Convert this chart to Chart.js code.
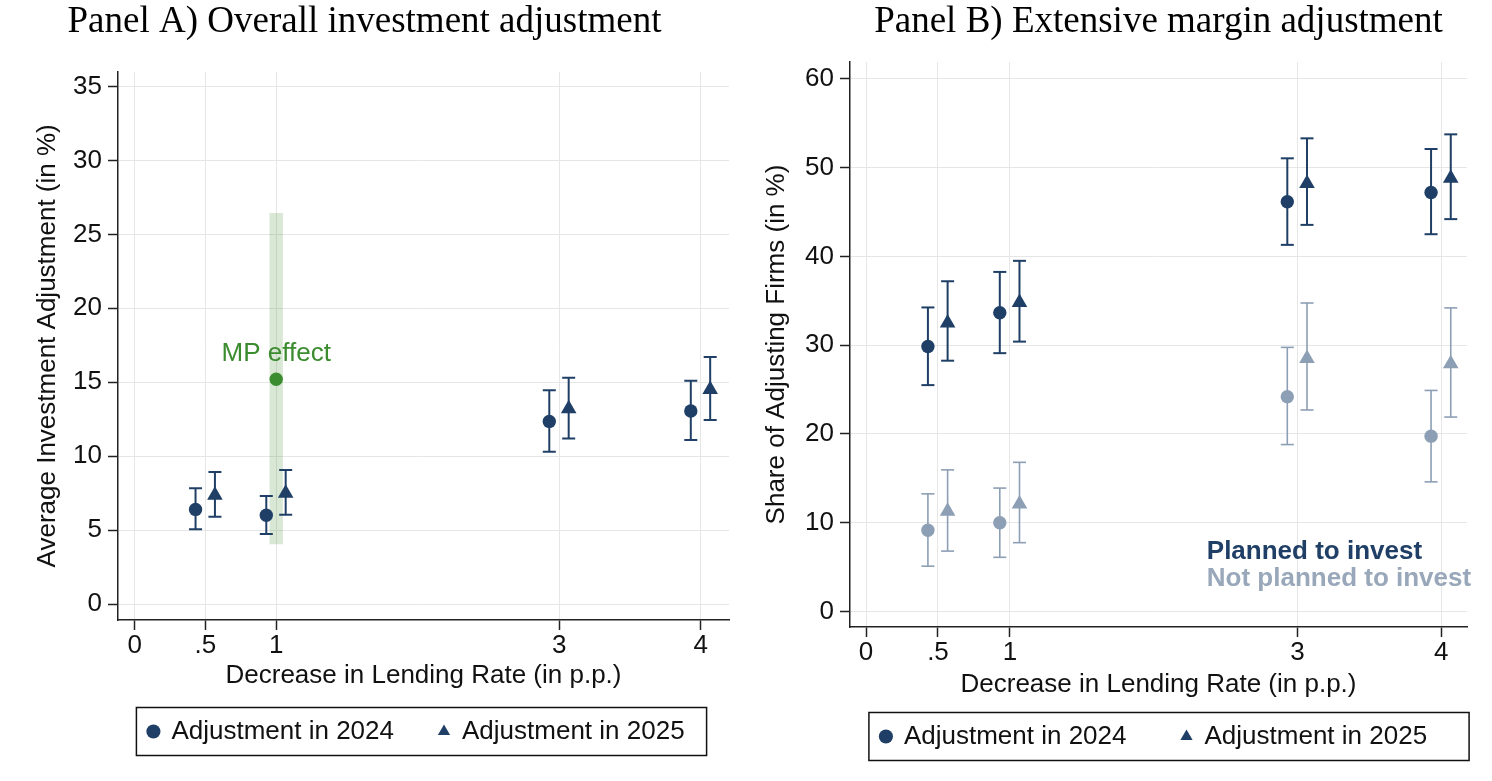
<!DOCTYPE html>
<html>
<head>
<meta charset="utf-8">
<script src="https://cdn.jsdelivr.net/npm/chart.js@4.4.1/dist/chart.umd.min.js"></script>
<style>
  body { margin: 0; background: #fff; width: 1492px; height: 781px; overflow: hidden; position: relative; }
  canvas { position: absolute; top: 0; }
  #chartA { left: 0; }
  #chartB { left: 745px; }
</style>
</head>
<body>
<canvas id="chartA" width="738" height="781"></canvas>
<canvas id="chartB" width="747" height="791"></canvas>
<script>
// shared x axis
const X_TICKS = [0, 0.5, 1, 3, 4];
const X_TICK_LABELS = ['0', '.5', '1', '3', '4'];
const RATE_CUTS = [0.5, 1, 3, 4];
const JITTER_2024 = -0.07, JITTER_2025 = 0.067;

// Panel A - overall investment adjustment
const A_Y_TICKS = [0, 5, 10, 15, 20, 25, 30, 35];
const adj2024 = [6.4, 6.0, 12.35, 13.05];
const adj2024Lo = [5.05, 4.73, 10.3, 11.1];
const adj2024Hi = [7.83, 7.31, 14.45, 15.1];
const adj2025 = [7.35, 7.5, 13.2, 14.5];
const adj2025Lo = [5.9, 6.03, 11.2, 12.45];
const adj2025Hi = [8.93, 9.07, 15.3, 16.7];
const mpRate = [1];
const mpEffect = [15.2];
const mpLo = [4.05], mpHi = [26.45];

// Panel B - extensive margin
const B_Y_TICKS = [0, 10, 20, 30, 40, 50, 60];
const plan2024 = [29.85, 33.65, 46.15, 47.2];
const plan2024Lo = [25.5, 29.1, 41.3, 42.5];
const plan2024Hi = [34.25, 38.25, 51.05, 52.1];
const plan2025 = [32.5, 34.8, 48.2, 48.8];
const plan2025Lo = [28.25, 30.4, 43.55, 44.2];
const plan2025Hi = [37.2, 39.5, 53.3, 53.75];
const notPlan2024 = [9.15, 10.0, 24.2, 19.75];
const notPlan2024Lo = [5.1, 6.1, 18.8, 14.6];
const notPlan2024Hi = [13.25, 13.9, 29.75, 24.9];
const notPlan2025 = [11.3, 12.1, 28.5, 27.9];
const notPlan2025Lo = [6.8, 7.75, 22.7, 21.9];
const notPlan2025Hi = [15.95, 16.8, 34.75, 34.2];

const NAVY = '#1f3f66';
const LIGHT = '#8d9fb5';
const GREEN = '#3b8b2f';
const SANS = 'Liberation Sans';
const FS = 26;

function shifted(xs, d) { return xs.map(x => x + d); }

function markerSet(label, xs, ys, style, color, radius, inLegend) {
    return {
        type: 'scatter', label: label, showInLegend: inLegend,
        data: xs.map((x, i) => ({x: x, y: ys[i]})),
        pointStyle: style, pointRadius: radius, pointHoverRadius: radius,
        backgroundColor: color, borderColor: color, pointBorderWidth: 0, borderWidth: 0
    };
}

function whiskerSet(xs, lo, hi, color, width, cap) {
    let pts = [];
    xs.forEach((x, i) => { pts.push({x: x, y: lo[i]}, {x: x, y: hi[i]}, {x: x, y: null}); });
    return {
        type: 'scatter', label: '', showInLegend: false, data: pts,
        showLine: true, spanGaps: false,
        borderColor: color, borderWidth: width, backgroundColor: color,
        pointStyle: 'line', pointRadius: cap, pointHoverRadius: cap,
        pointBorderColor: color, pointBorderWidth: width
    };
}

// moves the legend a little and draws the stata-like frame round it
const legendFrame = {
    id: 'legendFrame',
    afterLayout(chart, args, opts) {
        const lg = chart.legend;
        lg.left += opts.dx; lg.right += opts.dx;
        lg.top += opts.dy; lg.bottom += opts.dy;
    },
    afterDraw(chart, args, opts) {
        const boxes = chart.legend.legendHitBoxes;
        if (!boxes || !boxes.length) return;
        const left = Math.min(...boxes.map(b => b.left)) - opts.padLeft;
        const right = Math.max(...boxes.map(b => b.left + b.width)) + opts.padRight;
        const top = Math.min(...boxes.map(b => b.top)) - opts.padY;
        const bottom = Math.max(...boxes.map(b => b.top + b.height)) + opts.padY;
        const ctx = chart.ctx;
        ctx.save();
        ctx.strokeStyle = '#111';
        ctx.lineWidth = 1.5;
        ctx.strokeRect(left, top, right - left, bottom - top);
        ctx.restore();
    }
};

// text notes placed in data coordinates
const noteText = {
    id: 'noteText',
    afterDatasetsDraw(chart, args, opts) {
        const {ctx, scales: {x, y}} = chart;
        (opts.items || []).forEach(t => {
            ctx.save();
            ctx.font = t.font;
            ctx.fillStyle = t.color;
            ctx.textAlign = t.align;
            ctx.textBaseline = 'alphabetic';
            ctx.fillText(t.text, x.getPixelForValue(t.x), y.getPixelForValue(t.y));
            ctx.restore();
        });
    }
};

function panelOptions(cfg) {
    return {
        responsive: false, animation: false, devicePixelRatio: 1,
        layout: { padding: cfg.padding },
        scales: {
            x: {
                type: 'linear', min: cfg.xMin, max: cfg.xMax,
                afterBuildTicks: (s) => { s.ticks = X_TICKS.map(v => ({value: v})); },
                afterFit: (s) => { s.height = cfg.xHeight; },
                ticks: {
                    autoSkip: false, maxRotation: 0, padding: 0, color: '#111',
                    font: {family: SANS, size: FS},
                    callback: (v, i) => X_TICK_LABELS[i]
                },
                grid: { color: '#e6e6e6', lineWidth: 1, tickColor: '#222', tickLength: 10, tickWidth: 1.5 },
                border: { display: true, color: '#222', width: 1.5 },
                title: {
                    display: true, text: 'Decrease in Lending Rate (in p.p.)', color: '#111',
                    font: {family: SANS, size: FS}, padding: {top: 0, bottom: cfg.xTitlePad}
                }
            },
            y: {
                type: 'linear', min: cfg.yMin, max: cfg.yMax,
                afterBuildTicks: (s) => { s.ticks = cfg.yTicks.map(v => ({value: v})); },
                afterFit: (s) => { s.width = cfg.yWidth; },
                ticks: { padding: 6, color: '#111', font: {family: SANS, size: FS, lineHeight: 1} },
                grid: { color: '#e6e6e6', lineWidth: 1, tickColor: '#222', tickLength: 10, tickWidth: 1.5 },
                border: { display: true, color: '#222', width: 1.5 },
                title: {
                    display: true, text: cfg.yTitle, color: '#111',
                    font: {family: SANS, size: FS}, padding: {top: cfg.yTitlePad, bottom: 0}
                }
            }
        },
        plugins: {
            tooltip: { enabled: false },
            title: {
                display: true, text: cfg.title, fullSize: cfg.titleFull, color: '#000',
                font: {family: 'Liberation Serif', size: 37, weight: 'normal', lineHeight: 1.2},
                padding: {top: 0, bottom: cfg.titlePad}
            },
            legend: {
                display: true, position: 'bottom', fullSize: true,
                labels: {
                    usePointStyle: true, boxHeight: 10, boxWidth: 10, padding: cfg.legendPad, color: '#111',
                    font: {family: SANS, size: FS},
                    filter: (item, data) => data.datasets[item.datasetIndex].showInLegend === true
                }
            },
            legendFrame: { dx: cfg.legendDx, dy: cfg.legendDy, padLeft: 12, padRight: cfg.legendPadRight, padY: 11 },
            noteText: { items: cfg.notes }
        }
    };
}

new Chart(document.getElementById('chartA'), {
    type: 'scatter',
    data: {
        datasets: [
            markerSet('Adjustment in 2024', shifted(RATE_CUTS, JITTER_2024), adj2024, 'circle', NAVY, 6.7, true),
            markerSet('Adjustment in 2025', shifted(RATE_CUTS, JITTER_2025), adj2025, 'triangle', NAVY, 9, true),
            markerSet('MP effect', mpRate, mpEffect, 'circle', GREEN, 6.7, false),
            whiskerSet(shifted(RATE_CUTS, JITTER_2024), adj2024Lo, adj2024Hi, NAVY, 2, 6.5),
            whiskerSet(shifted(RATE_CUTS, JITTER_2025), adj2025Lo, adj2025Hi, NAVY, 2, 6.5),
            {
                type: 'scatter', label: '', showInLegend: false, showLine: true,
                data: [{x: mpRate[0], y: mpLo[0]}, {x: mpRate[0], y: mpHi[0]}],
                borderColor: 'rgba(59,139,47,0.2)', borderWidth: 13.3, borderCapStyle: 'butt',
                pointRadius: 0
            }
        ]
    },
    options: panelOptions({
        padding: {left: 0, right: 9, top: 0, bottom: 4},
        xMin: -0.118, xMax: 4.2, xHeight: 76, xTitlePad: 5,
        yMin: -1.08, yMax: 36.0, yTicks: A_Y_TICKS, yWidth: 118, yTitlePad: 32,
        yTitle: 'Average Investment Adjustment (in %)',
        title: 'Panel A) Overall investment adjustment', titleFull: true, titlePad: 27.3,
        legendPad: 45, legendPadRight: 22, legendDx: 52, legendDy: -22.5,
        notes: [
            {text: 'MP effect', x: 1, y: 16.45, align: 'center', color: GREEN, font: FS + 'px "Liberation Sans"'}
        ]
    }),
    plugins: [legendFrame, noteText]
});

new Chart(document.getElementById('chartB'), {
    type: 'scatter',
    data: {
        datasets: [
            markerSet('Adjustment in 2024', shifted(RATE_CUTS, JITTER_2024), plan2024, 'circle', NAVY, 6.7, true),
            markerSet('Adjustment in 2025', shifted(RATE_CUTS, JITTER_2025), plan2025, 'triangle', NAVY, 9, true),
            markerSet('', shifted(RATE_CUTS, JITTER_2024), notPlan2024, 'circle', LIGHT, 6.7, false),
            markerSet('', shifted(RATE_CUTS, JITTER_2025), notPlan2025, 'triangle', LIGHT, 9, false),
            whiskerSet(shifted(RATE_CUTS, JITTER_2024), plan2024Lo, plan2024Hi, NAVY, 2, 6.5),
            whiskerSet(shifted(RATE_CUTS, JITTER_2025), plan2025Lo, plan2025Hi, NAVY, 2, 6.5),
            whiskerSet(shifted(RATE_CUTS, JITTER_2024), notPlan2024Lo, notPlan2024Hi, LIGHT, 1.6, 6.5),
            whiskerSet(shifted(RATE_CUTS, JITTER_2025), notPlan2025Lo, notPlan2025Hi, LIGHT, 1.6, 6.5)
        ]
    },
    options: panelOptions({
        padding: {left: 0, right: 25, top: 0, bottom: 0},
        xMin: -0.112, xMax: 4.18, xHeight: 73, xTitlePad: 0,
        yMin: -1.75, yMax: 61.9, yTicks: B_Y_TICKS, yWidth: 105, yTitlePad: 16,
        yTitle: 'Share of Adjusting Firms (in %)',
        title: 'Panel B) Extensive margin adjustment', titleFull: false, titlePad: 17.6,
        legendPad: 55, legendPadRight: 42, legendDx: 48, legendDy: -31.5,
        notes: [
            {text: 'Planned to invest', x: 2.37, y: 5.9, align: 'left', color: NAVY, font: 'bold 26px "Liberation Sans"'},
            {text: 'Not planned to invest', x: 2.37, y: 2.85, align: 'left', color: '#98a7b9', font: 'bold 26px "Liberation Sans"'}
        ]
    }),
    plugins: [legendFrame, noteText]
});
</script>
</body>
</html>
